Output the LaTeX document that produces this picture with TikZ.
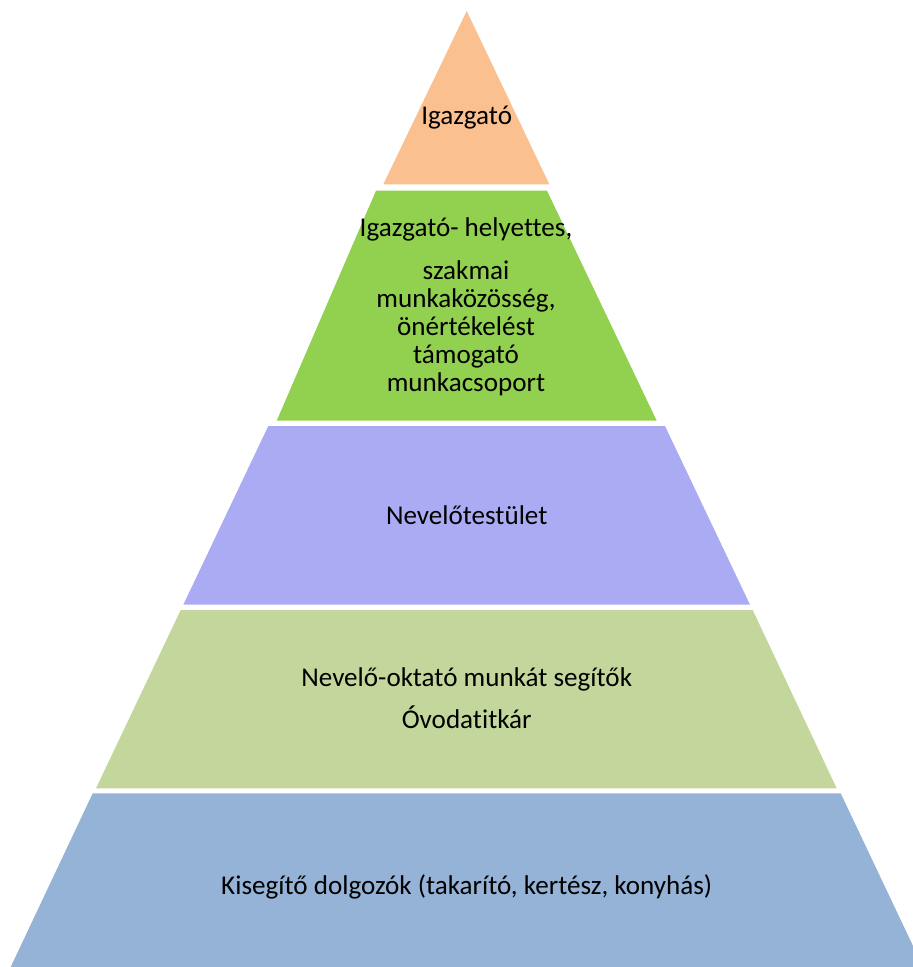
\documentclass[tikz,border=0pt]{standalone}
\usepackage{fontspec}
\setmainfont[Ligatures=NoCommon]{Carlito}
\definecolor{cOrange}{HTML}{FAC090}
\definecolor{cGreen}{HTML}{92D050}
\definecolor{cPurple}{HTML}{ABABF4}
\definecolor{cLgreen}{HTML}{C3D69B}
\definecolor{cBlue}{HTML}{95B3D7}
\tikzset{
  lbl/.style={font=\fontsize{27.1}{28}\selectfont, text=black, inner sep=0pt, anchor=base},
}
\begin{document}
\begin{tikzpicture}[x=1pt,y=-1pt]
\useasboundingbox (0,0) rectangle (913,967);
% layers
\fill[cOrange] (466.7,11) -- (549.3,184.3) -- (383.3,184.3) -- cycle;
\fill[cGreen] (376,190.7) -- (547,190.7) -- (656.7,420.7) -- (276.7,420.7) -- cycle;
\fill[cPurple] (268.3,426) -- (665,426) -- (750,604.7) -- (183.3,604.7) -- cycle;
\fill[cLgreen] (180.7,610) -- (752.7,610) -- (836.7,788.3) -- (96,788.3) -- cycle;
\fill[cBlue] (92.7,793.3) -- (840.7,793.3) -- (923,967) -- (10.7,967) -- cycle;
% texts
\node[lbl] (t1) at (466.7,124) {Igazgató};
\node[lbl] (t2a) at (466,236) {Igazgató- helyettes,};
\node[lbl] (t2b) at (466,279) {szakmai};
\node[lbl] (t2c) at (466,307) {munkaközösség,};
\node[lbl] (t2d) at (466,335) {önértékelést};
\node[lbl] (t2e) at (466,363) {támogató};
\node[lbl] (t2f) at (466,391) {munkacsoport};
\node[lbl] (t3) at (466.7,524) {Nevelőtestület};
\node[lbl] (t4a) at (466.7,686) {Nevelő-oktató munkát segítők};
\node[lbl] (t4b) at (466.7,728) {Óvodatitkár};
\node[lbl] (t5) at (466.7,894) {Kisegítő dolgozók (takarító, kertész, konyhás)};
\end{tikzpicture}
\end{document}
